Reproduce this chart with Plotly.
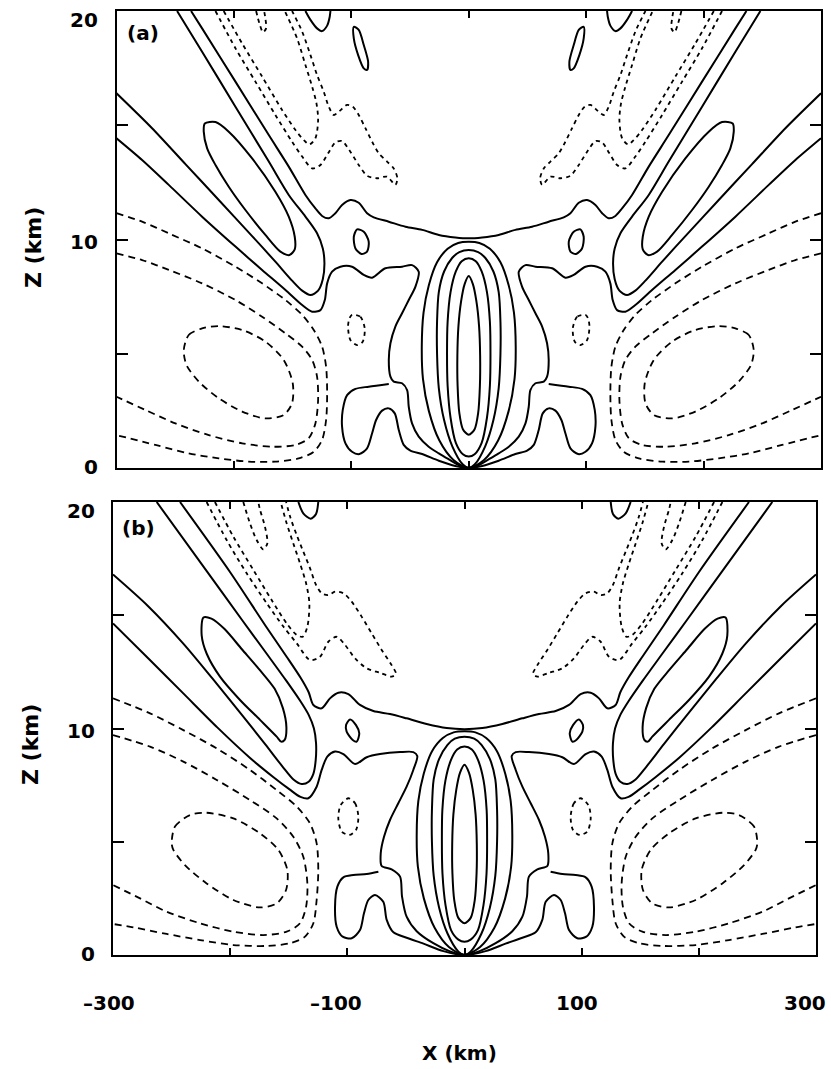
import plotly.graph_objects as go

# Contour lines of the two panels, traced as (x km, z km) vertices.
# Every field is symmetric about x = 0, so only the left half is listed;
# the right half is its mirror image.

# ---------------- panel (a) ----------------
a_bowl = [(-236.5, 20.0), (-227.1, 19.24), (-198.7, 16.91), (-170.3, 14.57), (-153.3, 13.19),
          (-139.1, 11.95), (-130.6, 11.36), (-124.9, 11.03), (-119.2, 10.93), (-113.6, 11.15),
          (-107.9, 11.51), (-100.8, 11.73), (-93.7, 11.61), (-86.6, 11.15), (-80.9, 10.97),
          (-68.1, 10.78), (-53.9, 10.56), (-39.7, 10.42), (-25.5, 10.2), (-11.4, 10.09), (0, 10.05)]
a_ridge_upper = [(-300, 16.4), (-269.7, 14.87), (-241.3, 13.3), (-212.9, 11.73), (-184.5, 10.15),
                 (-164.7, 9.03), (-150.5, 8.2), (-141.9, 7.76), (-134.8, 7.57), (-128.3, 7.76),
                 (-124.3, 8.26), (-122.9, 8.96), (-124.3, 9.61), (-129.2, 10.27), (-139.1, 11.0),
                 (-153.3, 11.95), (-170.3, 13.41), (-198.7, 15.81), (-227.1, 18.22), (-248.4, 20.0)]
a_ridge_lower = [(-300, 14.43), (-278.2, 13.48), (-255.5, 12.39), (-227.1, 11.0), (-198.7, 9.69),
                 (-176.0, 8.67), (-156.1, 7.79), (-141.9, 7.13), (-133.4, 6.84), (-126.3, 6.91),
                 (-122.6, 7.35), (-120.6, 8.08), (-116.4, 8.59), (-109.3, 8.81), (-99.4, 8.81),
                 (-89.4, 8.45), (-82.3, 8.33), (-71.0, 8.74), (-56.8, 8.81), (-48.3, 8.88),
                 (-42.6, 8.59), (-45.4, 7.94), (-51.1, 7.35), (-56.8, 6.77), (-62.5, 6.19),
                 (-66.7, 5.46), (-68.1, 4.73), (-66.7, 4.0), (-63.9, 3.78), (-56.8, 3.71),
                 (-52.5, 3.41), (-51.1, 2.68), (-48.3, 1.95), (-42.6, 1.37), (-34.1, 0.93),
                 (-25.5, 0.64), (-17.0, 0.38), (-8.5, 0.13), (0, 0)]
a_ellipse = [(-224.8, 15.08), (-215.7, 15.14), (-204.4, 14.72), (-184.5, 13.55), (-164.7, 12.09),
             (-153.3, 11.0), (-148.2, 10.12), (-148.2, 9.57), (-152.7, 9.32), (-160.4, 9.47),
             (-173.2, 10.2), (-190.2, 11.29), (-204.4, 12.31), (-215.7, 13.26), (-222.8, 13.99),
             (-225.7, 14.72), (-224.8, 15.08)]
a_lobe = [(-68.1, 3.68), (-85.2, 3.56), (-96.5, 3.46), (-103.6, 3.19), (-107.3, 2.54),
          (-107.9, 1.81), (-105.0, 1.08), (-99.4, 0.71), (-93.1, 0.61), (-86.6, 0.86),
          (-82.3, 1.52), (-78.9, 2.1), (-73.8, 2.51), (-68.1, 2.61), (-63.0, 2.39),
          (-59.6, 1.66), (-55.4, 1.01), (-49.7, 0.76), (-39.7, 0.61), (-25.5, 0.32),
          (-11.4, 0.09), (0, 0)]
a_core1 = [(0, 8.4), (-3.5, 8.05), (-6.5, 7.3), (-8.8, 6.2), (-9.7, 4.9), (-9.5, 3.6),
           (-8.0, 2.4), (-5.0, 1.7), (0, 1.45)]
a_core2 = [(0, 9.18), (-6, 9.05), (-11, 8.6), (-15.5, 7.7), (-18, 6.4), (-18.5, 5.0),
           (-18, 3.6), (-15.5, 2.2), (-11, 1.1), (-5, 0.6), (0, 0.5)]
a_core3 = [(0, 9.54), (-8, 9.45), (-14, 9.2), (-21, 8.6), (-25.5, 7.7), (-27, 6.4),
           (-27, 5.0), (-25.5, 3.5), (-21, 2.1), (-14, 0.95), (-5, 0.15), (0, 0)]
a_core4 = [(0, 9.9), (-9, 9.85), (-18, 9.6), (-27, 9.0), (-34, 8.0), (-38.5, 6.8),
           (-40, 5.3), (-39, 3.9), (-34, 2.5), (-25, 1.2), (-13, 0.35), (0, 0)]
a_island = [(-95.1, 10.44), (-89.4, 10.34), (-85.2, 9.91), (-86.6, 9.47), (-91.4, 9.37),
            (-96.5, 9.61), (-97.9, 10.12), (-95.1, 10.44)]
a_cap = [(-139.1, 20.0), (-134.8, 19.61), (-129.2, 19.24), (-124.9, 19.12), (-120.6, 19.36),
         (-118.4, 19.75), (-117.8, 20.0)]
a_top_oval = [(-97.9, 19.31), (-93.7, 19.17), (-89.4, 18.51), (-85.7, 17.78), (-86.6, 17.42),
              (-89.4, 17.49), (-94.2, 18.07), (-97.9, 18.8), (-97.9, 19.31)]
a_neg_outer = [(-300, 11.15), (-278.2, 10.78), (-255.5, 10.27), (-227.1, 9.61), (-198.7, 8.81),
               (-176.0, 8.08), (-156.1, 7.35), (-141.9, 6.7), (-132.0, 6.04), (-124.9, 5.31),
               (-121.5, 4.43), (-120.6, 3.27), (-121.5, 2.1), (-124.9, 1.23), (-132.0, 0.71),
               (-144.8, 0.42), (-164.7, 0.28), (-187.4, 0.28), (-212.9, 0.42), (-238.5, 0.64),
               (-266.9, 1.01), (-300, 1.44)]
a_neg_inner = [(-300, 9.39), (-278.2, 9.1), (-255.5, 8.67), (-227.1, 8.08), (-198.7, 7.35),
               (-176.0, 6.62), (-156.1, 5.89), (-141.9, 5.31), (-133.4, 4.73), (-129.2, 4.0),
               (-128.3, 2.98), (-130.6, 1.95), (-136.3, 1.3), (-147.6, 1.01), (-167.5, 0.93),
               (-193.0, 1.08), (-221.4, 1.44), (-249.8, 1.95), (-275.4, 2.54), (-300, 3.12)]
a_neg_oval = [(-242.7, 5.16), (-238.5, 5.82), (-227.1, 6.11), (-212.9, 6.21), (-193.0, 6.04),
              (-173.2, 5.53), (-157.6, 4.73), (-149.9, 3.71), (-150.5, 2.83), (-157.6, 2.32),
              (-173.2, 2.17), (-193.0, 2.47), (-212.9, 3.05), (-229.9, 3.78), (-240.4, 4.51),
              (-242.7, 5.16)]
a_neg_dot = [(-99.4, 6.7), (-92.3, 6.62), (-88.6, 6.11), (-90.3, 5.53), (-95.1, 5.38),
             (-100.8, 5.6), (-102.8, 6.19), (-101.6, 6.55), (-99.4, 6.7)]
a_top_outer = [(-215.7, 20.0), (-198.7, 18.37), (-181.7, 16.91), (-164.7, 15.45), (-150.5, 14.28),
               (-141.9, 13.63), (-133.4, 13.11), (-126.3, 13.26), (-119.8, 13.77), (-113.6, 14.25),
               (-107.9, 14.31), (-100.8, 13.84), (-93.7, 13.26), (-86.6, 12.79), (-78.1, 12.68),
               (-69.6, 12.75), (-62.5, 12.39), (-60.8, 12.68), (-63.9, 13.11), (-69.6, 13.41),
               (-76.6, 13.77), (-82.3, 14.28), (-88.0, 14.87), (-93.7, 15.45), (-98.8, 15.81),
               (-103.6, 15.89), (-110.1, 15.62), (-115.0, 15.45), (-119.2, 15.81), (-123.5, 16.47),
               (-129.2, 17.2), (-134.8, 18.07), (-141.9, 19.1), (-150.5, 20.0)]
a_top_inner = [(-208.7, 20.0), (-193.0, 18.58), (-176.0, 17.13), (-159.0, 15.67), (-147.6, 14.79),
               (-140.5, 14.35), (-135.7, 14.16), (-130.6, 14.43), (-128.3, 15.23), (-129.7, 15.96),
               (-133.4, 16.69), (-139.1, 17.64), (-146.2, 18.8), (-156.7, 20.0)]
a_top_hook = [(-181.1, 20.0), (-178.3, 19.46), (-175.2, 19.07), (-172.6, 19.24), (-173.2, 19.68),
              (-174.3, 20.0)]

# ---------------- panel (b) ----------------
b_bowl = [(-242.8, 20.0), (-200, 16.9), (-170, 14.55), (-151.8, 13.17), (-140, 12.25),
          (-133, 11.6), (-129, 11.04), (-121.9, 10.89), (-114.8, 11.33), (-107.7, 11.58),
          (-99.1, 11.52), (-89.2, 11.04), (-77.8, 10.77), (-63.6, 10.64), (-49.4, 10.45),
          (-32.3, 10.2), (-15.2, 10.02), (0, 9.97)]
b_ridge_upper = [(-300, 16.8), (-270, 15.4), (-240, 13.75), (-215, 12.2), (-190, 10.6),
                 (-170, 9.3), (-155, 8.3), (-146, 7.75), (-139, 7.55), (-133, 7.65),
                 (-129, 8.0), (-127, 8.6), (-126.7, 9.35), (-128.5, 10.0), (-133, 10.6),
                 (-140, 11.2), (-152, 12.1), (-168.8, 13.3), (-190, 14.8), (-220, 16.95),
                 (-262.7, 20.0)]
b_ridge_lower = [(-300, 14.64), (-270, 13.1), (-240, 11.55), (-211, 10.05), (-183, 8.7),
                 (-163, 7.85), (-149, 7.3), (-140, 6.98), (-133.3, 6.92), (-126.2, 7.43),
                 (-121.9, 8.17), (-117.1, 8.76), (-110.5, 8.98), (-103.4, 8.87), (-93.4, 8.43),
                 (-83.5, 8.73), (-72.1, 8.87), (-55.0, 8.96), (-43.7, 8.96), (-40.3, 8.79),
                 (-43.7, 8.17), (-49.4, 7.43), (-56.5, 6.7), (-63.6, 5.96), (-68.7, 5.22),
                 (-71.5, 4.49), (-70.7, 3.93), (-62.2, 3.78), (-55.0, 3.46), (-53.3, 2.58),
                 (-49.4, 1.69), (-40.8, 1.05), (-26.6, 0.52), (-12.4, 0.16), (0, 0)]
b_ellipse = [(-222.8, 14.9), (-216, 14.85), (-205, 14.4), (-190, 13.5), (-175, 12.6),
             (-162, 11.75), (-155, 10.9), (-152, 10.05), (-153.5, 9.5), (-156.5, 9.42),
             (-160.3, 9.64), (-174.5, 10.38), (-191.6, 11.26), (-208.7, 12.29), (-220, 13.3),
             (-224.3, 14.1), (-222.8, 14.9)]
b_lobe = [(-73.5, 3.68), (-83.5, 3.58), (-94.9, 3.53), (-103.4, 3.43), (-108.5, 3.02),
          (-110.5, 2.13), (-109.1, 1.25), (-104.0, 0.81), (-96.3, 0.74), (-89.2, 1.1),
          (-85.8, 1.84), (-82.1, 2.43), (-76.4, 2.65), (-69.3, 2.35), (-66.4, 1.55),
          (-60.7, 1.0), (-49.4, 0.76), (-35, 0.5), (-18, 0.17), (0, 0)]
b_core1 = [(0, 8.4), (-3.8, 8.05), (-7.0, 7.3), (-9.5, 6.2), (-10.5, 4.9), (-10.3, 3.6),
           (-8.7, 2.4), (-5.4, 1.65), (0, 1.4)]
b_core2 = [(0, 9.2), (-6.3, 9.07), (-11.6, 8.6), (-16.3, 7.7), (-18.9, 6.4), (-19.3, 5.0),
           (-18.8, 3.6), (-16.2, 2.2), (-11.5, 1.1), (-5.2, 0.68), (0, 0.59)]
b_core3 = [(0, 9.64), (-8.3, 9.55), (-14.5, 9.28), (-21.7, 8.65), (-26.3, 7.75), (-27.8, 6.4),
           (-27.8, 5.0), (-26.3, 3.5), (-21.7, 2.1), (-14.5, 0.95), (-5.2, 0.15), (0, 0)]
b_core4 = [(0, 9.88), (-9.3, 9.83), (-18.5, 9.58), (-27.7, 9.0), (-34.8, 8.0), (-39.4, 6.8),
           (-40.8, 5.3), (-39.8, 3.9), (-34.7, 2.5), (-25.5, 1.2), (-13.3, 0.35), (0, 0)]
b_island = [(-97.7, 10.4), (-92.6, 10.15), (-89.8, 9.79), (-92.0, 9.42), (-95.4, 9.49),
            (-100.6, 9.86), (-101.1, 10.15), (-97.7, 10.4)]
b_cap = [(-141.8, 20.0), (-137.6, 19.5), (-131.3, 19.26), (-126.7, 19.47), (-124.8, 20.0)]
b_neg_outer = [(-300, 11.33), (-268.4, 10.67), (-240.0, 9.93), (-211.5, 9.12), (-183.1, 8.17),
               (-160.3, 7.28), (-143.2, 6.55), (-131.9, 5.81), (-126.2, 4.93), (-124.8, 3.75),
               (-126.2, 2.43), (-129.0, 1.4), (-136.1, 0.81), (-148.9, 0.52), (-168.8, 0.4),
               (-197.3, 0.44), (-225.7, 0.66), (-254.2, 0.93), (-282.6, 1.22), (-300, 1.37)]
b_neg_inner = [(-300, 9.71), (-268.4, 9.2), (-240.0, 8.54), (-211.5, 7.73), (-183.1, 6.84),
               (-160.3, 6.03), (-146.1, 5.22), (-137.6, 4.34), (-134.1, 3.16), (-135.2, 2.13),
               (-140.4, 1.4), (-151.8, 1.03), (-171.7, 0.88), (-197.3, 1.03), (-225.7, 1.4),
               (-254.2, 1.91), (-276.9, 2.5), (-300, 3.09)]
b_neg_oval = [(-249.9, 4.93), (-247.1, 5.67), (-234.3, 6.18), (-220.1, 6.28), (-197.3, 6.03),
              (-174.5, 5.37), (-158.9, 4.64), (-151.2, 3.75), (-152.3, 2.87), (-160.3, 2.28),
              (-174.5, 2.1), (-197.3, 2.43), (-220.1, 3.16), (-238.6, 3.97), (-248.5, 4.64),
              (-249.9, 4.93)]
b_neg_dot = [(-99.1, 6.92), (-93.4, 6.7), (-90.6, 6.11), (-92.6, 5.52), (-98.3, 5.3),
             (-104.8, 5.45), (-107.7, 6.03), (-105.7, 6.62), (-99.1, 6.92)]
b_top_outer = [(-220.1, 20.0), (-203.0, 18.32), (-185.9, 16.85), (-168.8, 15.53), (-154.6, 14.5),
               (-143.2, 13.76), (-131.8, 13.02), (-123.3, 13.17), (-116.2, 13.83), (-109.1, 14.05),
               (-102.0, 13.69), (-93.5, 13.1), (-83.5, 12.66), (-72.1, 12.46), (-62.2, 12.29),
               (-58.5, 12.41), (-62.2, 12.8), (-70.7, 13.47), (-79.2, 14.2), (-87.8, 14.94),
               (-96.3, 15.6), (-103.4, 15.97), (-110.5, 16.04), (-116.2, 15.89), (-121.9, 15.97),
               (-126.7, 16.34), (-131.8, 17.07), (-137.6, 17.81), (-143.2, 18.54), (-148.4, 19.28),
               (-152.3, 20.0)]
b_top_inner = [(-213.0, 20.0), (-197.3, 18.47), (-180.2, 17.0), (-164.6, 15.67), (-151.8, 14.64),
               (-143.2, 14.13), (-138.1, 14.05), (-134.1, 14.5), (-132.4, 15.53), (-135.2, 16.41),
               (-140.4, 17.29), (-146.1, 18.17), (-151.8, 19.06), (-156.9, 20.0)]
b_top_hook = [(-188.8, 20.0), (-183.1, 19.06), (-177.4, 18.32), (-171.7, 17.91), (-168.3, 18.17),
              (-170.3, 18.91), (-174.5, 19.65), (-176.0, 20.0)]

# Axis ticks and their printed labels
X_TICKS = [-300, -200, -100, 0, 100, 200, 300]
X_LABELS = [(-300, "\u2013300", -4), (-100, "\u2013100", -11), (100, "100", -5), (300, "300", -11)]
Z_TICKS = [0, 5, 10, 15, 20]
Z_LABELS = [(0, "0", 1), (10, "10", -2), (20, "20", -9)]

SOLID = dict(color="black", width=2)
DASH_LONG = dict(color="black", width=1.8, dash="7px,5px")
DASH_SHORT = dict(color="black", width=1.8, dash="4px,4px")


def mirrored(pts):
    return [(-x, z) for x, z in pts]


def through_centre(pts):
    # pts run from the outside in to x = 0; carry on along the mirrored side
    return pts + [(-x, z) for x, z in reversed(pts[:-1])]


fig = go.Figure()


def add_line(pts, style, xa, ya):
    fig.add_trace(go.Scatter(
        x=[p[0] for p in pts], y=[p[1] for p in pts], mode="lines",
        line=dict(shape="spline", smoothing=0.8, **style),
        xaxis=xa, yaxis=ya, hoverinfo="skip", showlegend=False))


panels = {
    ("x", "y"): dict(
        centre=[a_bowl, a_ridge_lower, a_lobe, a_core1, a_core2, a_core3, a_core4],
        side_solid=[a_ridge_upper, a_ellipse, a_island, a_cap, a_top_oval],
        side_long=[a_neg_outer, a_neg_inner, a_neg_oval],
        side_short=[a_neg_dot, a_top_outer, a_top_inner, a_top_hook]),
    ("x2", "y2"): dict(
        centre=[b_bowl, b_ridge_lower, b_lobe, b_core1, b_core2, b_core3, b_core4],
        side_solid=[b_ridge_upper, b_ellipse, b_island, b_cap],
        side_long=[b_neg_outer, b_neg_inner, b_neg_oval],
        side_short=[b_neg_dot, b_top_outer, b_top_inner, b_top_hook]),
}

for (xa, ya), sets in panels.items():
    for pts in sets["centre"]:
        add_line(through_centre(pts), SOLID, xa, ya)
    for key, style in (("side_solid", SOLID), ("side_long", DASH_LONG), ("side_short", DASH_SHORT)):
        for pts in sets[key]:
            add_line(pts, style, xa, ya)
            add_line(mirrored(pts), style, xa, ya)

W, H = 831, 1069
FONT = dict(family="DejaVu Sans", size=20, color="black", weight="bold")

frame = dict(showline=True, linewidth=2, linecolor="black", mirror="ticks", ticks="inside",
             tickcolor="black", tickwidth=1.5, showgrid=False, zeroline=False,
             showticklabels=False)

fig.update_layout(
    width=W, height=H, margin=dict(l=0, r=0, t=0, b=0),
    paper_bgcolor="white", plot_bgcolor="white", showlegend=False,
    xaxis=dict(domain=[116.5 / W, 821 / W], range=[-300, 300], anchor="y",
               tickvals=X_TICKS, ticklen=7, **frame),
    yaxis=dict(domain=[1 - 468 / H, 1 - 11 / H], range=[0, 20], anchor="x",
               tickvals=Z_TICKS, ticklen=11, **frame),
    xaxis2=dict(domain=[113 / W, 816 / W], range=[-300, 300], anchor="y2",
                tickvals=X_TICKS, ticklen=7, **frame),
    yaxis2=dict(domain=[1 - 955 / H, 1 - 502 / H], range=[0, 20], anchor="x2",
                tickvals=Z_TICKS, ticklen=11, **frame),
)

# Tick labels: z labels sit left of each panel, x labels only under panel (b)
for ya, right_px in (("y", 100), ("y2", 97)):
    for val, text, dy in Z_LABELS:
        fig.add_annotation(text=text, x=right_px / W, xref="paper", y=val, yref=ya,
                           yshift=dy, showarrow=False, xanchor="right", yanchor="middle",
                           font=FONT)
for val, text, dx in X_LABELS:
    fig.add_annotation(text=text, x=val, xref="x2", y=1 - 1003 / H, yref="paper",
                       xshift=dx, showarrow=False, xanchor="center", yanchor="middle",
                       font=FONT)

labels = [
    ("Z (km)", 33, 248, -90, 22),
    ("Z (km)", 30, 745, -90, 22),
    ("X (km)", 460, 1053, 0, 20),
    ("(a)", 143, 33, 0, 20),
    ("(b)", 138, 528, 0, 20),
]
for text, px, py, angle, size in labels:
    fig.add_annotation(text=text, x=px / W, y=1 - py / H, xref="paper", yref="paper",
                       showarrow=False, textangle=angle, xanchor="center", yanchor="middle",
                       font=dict(FONT, size=size))

fig.write_html("out.html")
